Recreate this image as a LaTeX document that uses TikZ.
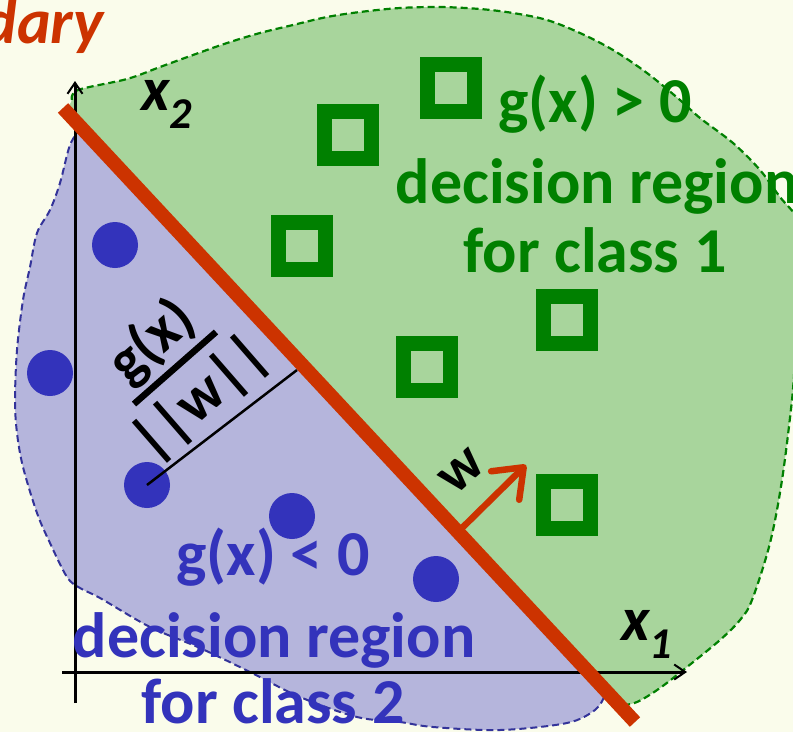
\documentclass[tikz,border=0pt]{standalone}
\usepackage{fontspec}
\setmainfont{Carlito}
\usetikzlibrary{arrows.meta}
\definecolor{bgc}{HTML}{FAFCEB}
\definecolor{gfill}{HTML}{A8D59C}
\definecolor{pfill}{HTML}{B5B5DC}
\definecolor{gdark}{HTML}{008000}
\definecolor{bdark}{HTML}{3333BB}
\definecolor{bdash}{HTML}{333399}
\definecolor{redl}{HTML}{CC3300}
\begin{document}
\begin{tikzpicture}[x=1pt,y=-1pt,
  gtxt/.style={font=\fontsize{64}{66}\selectfont\bfseries, text=gdark, inner sep=0pt},
  btxt/.style={font=\fontsize{64}{66}\selectfont\bfseries, text=bdark, inner sep=0pt},
  sq/.style={rectangle, draw=gdark, line width=15pt, minimum size=47pt, inner sep=0pt},
  bdot/.style={circle, fill=bdark, minimum size=46pt, inner sep=0pt},
  gdash/.style={draw=gdark, line width=2.2pt, dash pattern=on 7pt off 4pt},
  pdash/.style={draw=bdash, line width=2pt, dash pattern=on 7pt off 4pt},
  axis/.style={draw=black, line width=3pt, -{Straight Barb[length=11pt,width=15pt,line width=2pt]}},
  fracfont/.style={font=\fontsize{60}{60}\selectfont\bfseries, inner sep=0pt, rotate=41}
]
\useasboundingbox (0,0) rectangle (793,732);
\fill[bgc] (0,0) rectangle (793,732);
\clip (0,0) rectangle (793,732);

% regions
\fill[gfill] plot[smooth, tension=0.55] coordinates {(72,100) (78,90) (127,79) (160,67) (193,55) (227,43) (260,33) (293,25) (327,17) (360,12) (400,8) (440,7) (480,9) (513,13) (547,20) (580,33) (613,50) (647,73) (680,100) (700,118) (733,143) (760,170) (780,197) (800,222) (815,265) (813,300) (798,335) (792,400) (782,480) (770,543) (752,600) (740,620) (720,640) (687,667) (660,688) (637,702) (619,706)} -- (66,112) -- cycle;
\fill[pfill] plot[smooth, tension=0.55] coordinates {(81,128) (70,145) (60,183) (50,210) (37,233) (30,267) (23,300) (17,350) (15,400) (17,433) (23,467) (37,513) (50,543) (67,577) (80,588) (100,598) (150,627) (200,648) (250,672) (300,697) (357,717) (400,722) (433,727) (500,730) (567,723) (595,710) (604,697)} -- (601,686) -- cycle;
\draw[gdash] plot[smooth, tension=0.55] coordinates {(72,100) (78,90) (127,79) (160,67) (193,55) (227,43) (260,33) (293,25) (327,17) (360,12) (400,8) (440,7) (480,9) (513,13) (547,20) (580,33) (613,50) (647,73) (680,100) (700,118) (733,143) (760,170) (780,197) (800,222) (815,265) (813,300) (798,335) (792,400) (782,480) (770,543) (752,600) (740,620) (720,640) (687,667) (660,688) (637,702) (619,706)};
\draw[pdash] plot[smooth, tension=0.55] coordinates {(81,128) (70,145) (60,183) (50,210) (37,233) (30,267) (23,300) (17,350) (15,400) (17,433) (23,467) (37,513) (50,543) (67,577) (80,588) (100,598) (150,627) (200,648) (250,672) (300,697) (357,717) (400,722) (433,727) (500,730) (567,723) (595,710) (604,697)};

% axes
\coordinate (yb) at (75,703);
\coordinate (yt) at (75,81);
\coordinate (xb) at (62,672);
\coordinate (xt) at (687,672);
\draw[axis] (yb) -- (yt);
\draw[axis] (xb) -- (xt);

% class 1 squares
\node[sq] (s1) at (451,88) {};
\node[sq] (s2) at (348,135) {};
\node[sq] (s3) at (302,246) {};
\node[sq] (s4) at (567,320) {};
\node[sq] (s5) at (427,367) {};
\node[sq] (s6) at (567,505) {};

% class 2 dots
\node[bdot] (d1) at (115,245) {};
\node[bdot] (d2) at (50,373) {};
\node[bdot] (d3) at (147,485) {};
\node[bdot] (d4) at (292,516) {};
\node[bdot] (d5) at (436,579) {};

% boundary line
\coordinate (r1) at (63,108);
\coordinate (r2) at (635,722);
\coordinate (foot) at (297,370);
\draw[black, line width=2.5pt] (d3.center) -- (foot);

% fraction g(x)/||w||
\coordinate (fb1) at (134,404);
\coordinate (fb2) at (216,332);
\draw[black, line width=6.5pt] (fb1) -- (fb2);
\node[fracfont] (num) at (152,342) {g(x)};
\node[fracfont] (den) at (201,399) {||w||};

\draw[redl, line width=14pt] (r1) -- (r2);
\coordinate (wa) at (461,529);
\coordinate (wt) at (526,465);
\draw[redl, line width=6.5pt, line cap=round, -{Straight Barb[length=26pt,width=40pt,line width=6.5pt, round]}] (wa) -- (wt);
\node[font=\fontsize{58}{58}\selectfont\bfseries, rotate=42, inner sep=0pt] (wl) at (462,472) {w};

% axis labels
\node[anchor=base west, inner sep=0pt, font=\fontsize{62}{62}\selectfont\bfseries\itshape] (x2) at (141,110) {x\raisebox{-0.3em}{\fontsize{44}{44}\selectfont 2}};
\node[anchor=base west, inner sep=0pt, font=\fontsize{62}{62}\selectfont\bfseries\itshape] (x1) at (621,640) {x\raisebox{-0.3em}{\fontsize{44}{44}\selectfont 1}};

% texts
\node[anchor=base east, inner sep=0pt, font=\fontsize{64}{64}\selectfont\bfseries\itshape, text=redl] (bd) at (104,43) {dary};
\node[gtxt, anchor=base] (g1) at (595,122) {g(x) > 0};
\node[gtxt, anchor=base] (g2) at (597,203) {decision region};
\node[gtxt, anchor=base] (g3) at (595,272) {for class 1};
\node[btxt, anchor=base] (b1) at (273,575) {g(x) < 0};
\node[btxt, anchor=base] (b2) at (274,657) {decision region};
\node[btxt, anchor=base] (b3) at (273,723) {for class 2};
\end{tikzpicture}
\end{document}
